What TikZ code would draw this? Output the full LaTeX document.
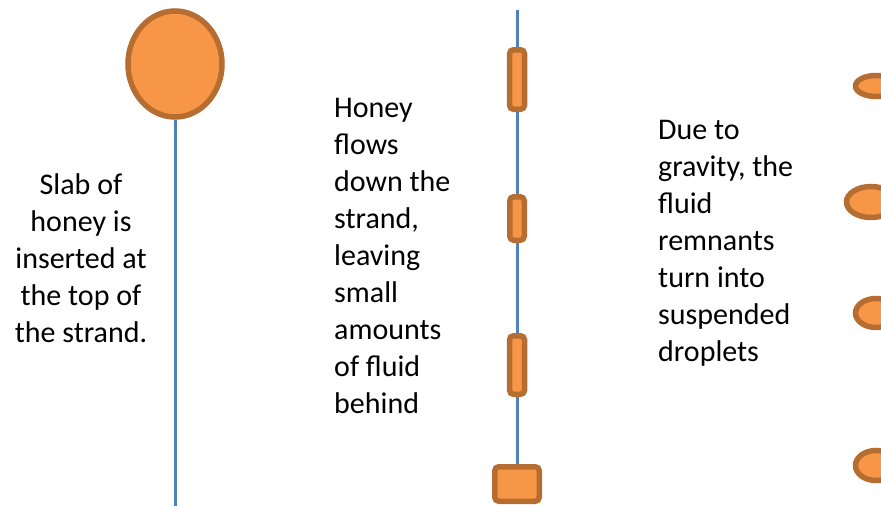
\documentclass[tikz,border=0pt]{standalone}
\usepackage{fontspec}
\setmainfont{Carlito}
\usetikzlibrary{shapes.geometric}
\definecolor{honey}{HTML}{F79646}
\definecolor{honeyedge}{HTML}{B66D31}
\definecolor{strandblue}{HTML}{4F81BD}
\tikzset{
  honeyblob/.style={draw=honeyedge, fill=honey, line width=5.5pt, inner sep=0pt},
  honeybar/.style={honeyblob, rectangle, rounded corners=4pt},
  droplet/.style={honeyblob, ellipse},
  strand/.style={draw=strandblue, line width=3pt},
  caption/.style={inner sep=0pt, font=\fontsize{30}{37}\selectfont}
}
\begin{document}
\begin{tikzpicture}[x=1pt, y=-1pt]
  \clip (0,0) rectangle (881,506);
  \useasboundingbox (0,0) rectangle (881,506);
  \fill[white] (0,0) rectangle (881,506);

  % first stage: slab of honey at the top of the strand
  \coordinate (bot1) at (175,506);
  \node[honeyblob, ellipse, minimum width=94pt, minimum height=106pt] (slab) at (175,64) {};
  \draw[strand] (slab.south) -- (bot1);
  \node[caption, align=center, anchor=north] (txt1) at (81,173)
    {Slab of\\honey is\\inserted at\\the top of\\the strand.};

  % second stage: honey running down, leaving remnants
  \coordinate (top2) at (517,10);
  \node[honeybar, minimum width=15pt, minimum height=59.5pt] (r1) at (517,79.5) {};
  \node[honeybar, minimum width=14.5pt, minimum height=43.5pt] (r2) at (517,218.5) {};
  \node[honeybar, minimum width=15pt, minimum height=58.5pt] (r3) at (517,365) {};
  \node[honeybar, minimum width=44.5pt, minimum height=34.5pt] (blob) at (517,484) {};
  \draw[strand] (top2) -- (r1.north);
  \draw[strand] (r1.south) -- (r2.north);
  \draw[strand] (r2.south) -- (r3.north);
  \draw[strand] (r3.south) -- (blob.north);
  \node[caption, align=left, anchor=north west] (txt2) at (334,98)
    {Honey\\flows\\down the\\strand,\\leaving\\small\\amounts\\of fluid\\behind};

  % third stage: suspended droplets
  \node[caption, align=left, anchor=north west] (txt3) at (658,120)
    {Due to\\gravity, the\\fluid\\remnants\\turn into\\suspended\\droplets};
  \node[droplet, minimum width=41pt, minimum height=21pt] (d1) at (876,86) {};
  \node[droplet, minimum width=49pt, minimum height=31pt] (d2) at (871,202) {};
  \node[droplet, minimum width=41pt, minimum height=29pt] (d3) at (876,313) {};
  \node[droplet, minimum width=41pt, minimum height=30pt] (d4) at (876,465.5) {};
\end{tikzpicture}
\end{document}
